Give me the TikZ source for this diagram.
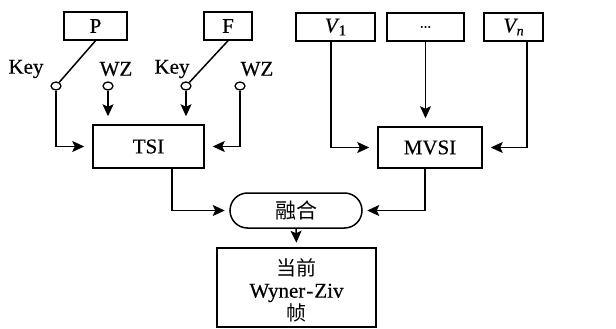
\documentclass[tikz,border=0pt]{standalone}
\usepackage{fontspec}
\setmainfont{Liberation Serif}[FakeBold=0.4]
\newfontfamily\cjk{Noto Sans CJK SC}
\usetikzlibrary{arrows.meta,shapes.misc,shapes.geometric}
\begin{document}
\begin{tikzpicture}[x=1pt,y=-1pt,
  font=\fontsize{21}{24}\selectfont,
  every path/.style={line width=1.5pt},
  box/.style={draw,line width=1.5pt,inner sep=0pt,align=center},
  sw/.style={draw,ellipse,line width=1.3pt,minimum width=10pt,minimum height=8pt,inner sep=0pt,fill=white},
  lbl/.style={inner sep=0pt},
  arr/.style={-{Stealth[length=12pt,width=11pt,inset=2.5pt]},shorten >=8pt},
  arrs/.style={-{Stealth[length=12pt,width=11pt,inset=2.5pt]},shorten >=4.5pt}]
\useasboundingbox (0,0) rectangle (616,329);
% top boxes
\node[box,minimum width=63pt,minimum height=28pt] (P) at (95.5,26) {P};
\node[box,minimum width=48pt,minimum height=28pt] (F) at (228,26) {F};
\node[box,minimum width=79pt,minimum height=28pt] (V1) at (335.5,27) {\itshape V\kern1pt\raisebox{-3pt}{\upshape\fontsize{15}{15}\selectfont 1}};
\node[box,minimum width=77pt,minimum height=28pt] (dots) at (425.5,27) {\fontsize{15}{15}\selectfont ...};
\node[box,minimum width=59pt,minimum height=28pt] (Vn) at (513.5,27) {\itshape V\kern0.5pt\raisebox{-3pt}{\fontsize{14}{14}\selectfont n}};
% labels
\node[lbl] (k1) at (26,69) {Key};
\node[lbl] (w1) at (116,69) {WZ};
\node[lbl] (k2) at (172,69) {Key};
\node[lbl] (w2) at (257,69) {WZ};
% switch contacts
\node[sw] (c1) at (56,86) {};
\node[sw] (c2) at (108,86) {};
\node[sw] (c3) at (186,86) {};
\node[sw] (c4) at (240,86) {};
% processing boxes
\node[box,minimum width=111pt,minimum height=43pt] (TSI) at (148.5,146.5) {TSI};
\node[box,minimum width=104pt,minimum height=41pt] (MVSI) at (430,147.5) {MVSI};
\node[box,rounded rectangle,minimum width=132pt,minimum height=35pt] (fuse) at (296,210.5) {\cjk\fontsize{21}{24}\selectfont 融合};
\node[box,minimum width=159pt,minimum height=79pt] (out) at (296.5,287.5) {};
\node[align=center,inner sep=0pt] (outtxt) at ([yshift=-3pt]out.center) {{\cjk\fontsize{20}{24}\selectfont 当前}\\[-2pt]Wyner\kern1pt-\kern1pt Ziv\\[-1pt]{\cjk\fontsize{20}{24}\selectfont 帧}};
% switches
\draw (P.south) -- (c1);
\draw (F.south) -- (c3);
% arrows into TSI
\draw[arr] (c1) |- (TSI.west);
\draw[arr] (c2) -- (c2 |- TSI.north);
\draw[arr] (c3) -- (c3 |- TSI.north);
\draw[arr] (c4) |- (TSI.east);
% arrows into MVSI
\coordinate (v1s) at ([xshift=-4.5pt]V1.south);
\coordinate (vns) at ([xshift=13.5pt]Vn.south);
\draw[arr] (v1s) |- (MVSI.west);
\draw[arr] (dots.south) -- (dots.south |- MVSI.north);
\draw[arr] (vns) |- (MVSI.east);
% to fusion
\coordinate (ts) at ([xshift=23.5pt]TSI.south);
\coordinate (ms) at ([xshift=-5pt]MVSI.south);
\draw[arrs] (ts) |- (fuse.west);
\draw[arrs] (ms) |- (fuse.east);
\draw[arrs] (fuse.south) -- (out.north);
\end{tikzpicture}
\end{document}
